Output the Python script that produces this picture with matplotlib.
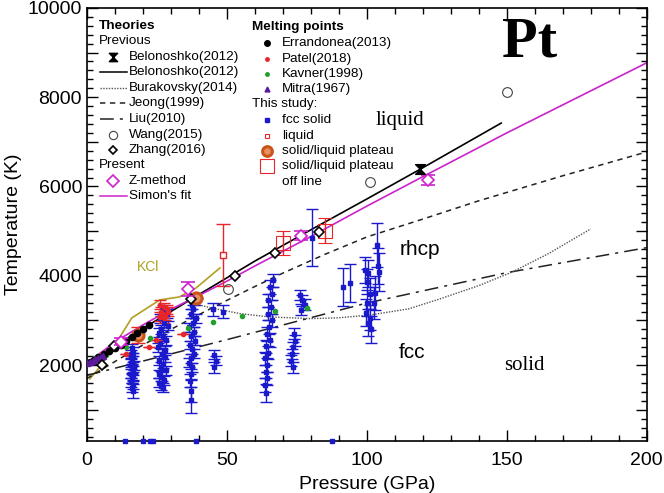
import matplotlib
matplotlib.use("Agg")
import matplotlib.pyplot as plt
from matplotlib.path import Path
from matplotlib.ticker import MultipleLocator, FuncFormatter

plt.rcParams["font.family"] = ["Liberation Sans", "DejaVu Sans"]

# ---- theory curves ----
belo_line_p = [0, 20, 40, 60, 80, 100, 120, 148]
belo_line_t = [2045, 2820, 3580, 4330, 5030, 5720, 6420, 7420]
simon_p = [0, 10, 20, 30, 40, 50, 60, 80, 100, 120, 150, 200]
simon_t = [2041, 2520, 2900, 3250, 3560, 3880, 4220, 4880, 5560, 6220, 7200, 8770]
jeong_p = [0, 10, 20, 30, 40, 50, 60, 70, 85, 100, 120, 140, 170, 200]
jeong_t = [1700, 2080, 2450, 2800, 3130, 3450, 3760, 4060, 4480, 4870, 5270, 5680, 6240, 6774]
liu_p = [0, 50, 100, 150, 200]
liu_t = [1770, 2570, 3390, 4070, 4630]
bura_p = [38, 45, 55, 65, 80, 90, 101, 115, 126, 140, 152, 165, 180]
bura_t = [3380, 3270, 3150, 3080, 3040, 3060, 3120, 3260, 3480, 3780, 4086, 4500, 5050]
kcl_p = [1, 4.6, 9.3, 16, 26, 33, 39, 47.5]
kcl_t = [1690, 1958, 2383, 3056, 3459, 3526, 3728, 4176]

belo_pt_p = [119]
belo_pt_t = [6393]
wang_p = [50.4, 101, 150]
wang_t = [3705, 6100, 8118]
zhang_p = [5.2, 9.5, 12.5, 37, 53, 67, 83]
zhang_t = [2003, 2420, 2500, 3484, 3997, 4519, 4990]
zmeth_p = [12, 36, 76.4, 122]
zmeth_t = [2520, 3705, 4892, 6147]
zmeth_err = [80, 150, 100, 120]

# ---- melting points ----
erran_p = [1, 2.5, 4, 6, 8, 10, 12, 14, 16, 18, 20, 22]
erran_t = [2080, 2120, 2180, 2250, 2320, 2390, 2460, 2540, 2620, 2720, 2810, 2900]
patel_p = [26, 27.5, 28.5, 26.5, 27, 28, 26, 27.5, 28.8, 14, 22, 24.6, 34.3]
patel_t = [3350, 3300, 3250, 3200, 3150, 3100, 3080, 3050, 3200, 2250, 2400, 2560, 2700]
patel_err = [100, 100, 100, 100, 100, 100, 100, 100, 100, 0, 0, 0, 0]
kavner_p = [2.5, 6.8, 14, 22.5, 36, 45, 55.3, 67, 78.5]
kavner_t = [2150, 2227, 2406, 2608, 2832, 2966, 3100, 3212, 3270]
mitra_p = [0, 1, 2, 3, 4, 5, 5.7]
mitra_t = [2041, 2070, 2100, 2130, 2160, 2190, 2210]

# ---- this study ----
fcc_p = [16.0, 16.4, 15.8, 16.6, 16.2, 15.6, 16.8, 16.0, 16.4, 15.8, 16.6, 16.2, 15.9, 16.5, 16.1, 16.3,
         27.0, 28.5, 26.0, 27.5, 28.8, 26.5, 25.8, 27.2, 28.4, 26.2, 25.5, 27.8, 26.8, 28.0, 25.8, 27.0,
         26.4, 28.2, 25.6, 26.9, 27.6, 25.9, 26.6, 27.3,
         38.5, 37.5, 38.0, 37.0, 38.8, 37.8, 36.5, 38.2, 37.2, 38.6, 36.8, 37.6, 38.4, 37.0, 36.6, 37.4,
         37.0, 36.8, 37.2, 37.0,
         45.0, 48.5, 45.5, 46.0, 45.5,
         66.5, 65.5, 66.0, 64.8, 65.8, 64.5, 66.2, 65.0, 64.2, 65.4, 64.0, 64.8, 63.6, 64.4, 63.8, 64.2,
         63.5, 64.0,
         74.0, 74.5, 73.5, 73.2, 73.0, 73.5, 76.0, 77.0, 78.0, 76.5, 80.5, 91.4, 94.0,
         99.5, 100.5, 100.0, 101.0, 100.2, 99.8, 101.2, 100.4, 103.5, 104.0, 104.5, 103.0, 102.5, 101.5]
fcc_t = [2380, 2300, 2230, 2170, 2100, 2050, 1990, 1930, 1870, 1810, 1750, 1690, 1620, 1560, 1490, 1420,
         3250, 3150, 3050, 2950, 2880, 2800, 2720, 2640, 2560, 2480, 2400, 2330, 2250, 2180, 2100, 2030,
         1960, 1880, 1800, 1740, 1660, 1600, 1540, 1490,
         3450, 3350, 3250, 3150, 3050, 2950, 2850, 2750, 2650, 2550, 2450, 2350, 2250, 2150, 2050, 1950,
         1800, 1650, 1420, 1220,
         3250, 3200, 2230, 2100, 1950,
         3900, 3750, 3600, 3450, 3300, 3150, 3000, 2850, 2700, 2560, 2420, 2280, 2150, 2000, 1850, 1700,
         1550, 1380,
         2700, 2550, 2400, 2250, 2100, 1950, 3570, 3450, 3350, 3240, 4850, 3750, 3840,
         4130, 4060, 3870, 3600, 3390, 3170, 3060, 2950, 4690, 4220, 4090, 3610, 3390, 2800]
fcc_err = [100] * 15 + [150] + [100] * 24 + [100] * 16 + [120, 150, 250, 300] + [150, 150, 100, 100, 120] + \
          [150] * 17 + [200] + [120] * 10 + [640, 430, 430] + \
          [300, 300, 280, 350, 300, 300, 280, 300, 490, 400, 420, 380, 350, 300]
axis_p = [13.7, 20.1, 22.4, 23.6, 38.8, 87.6]
axis_t = [300, 300, 300, 300, 300, 300]
liquid_p = [48.6]
liquid_t = [4470]
liquid_err = [700]
plateau_p = [18.4, 39]
plateau_t = [2675, 3504]
plateau_err = [180, 0]
offline_p = [70, 85]
offline_t = [4735, 5004]
offline_err = [260, 280]

BLUE = "#1a1acc"
RED = "#e8262a"
ORANGE = "#c9541a"
GREEN = "#22a02a"
PURPLE = "#5a1a9a"
MAGENTA = "#cc22cc"
OLIVE = "#b0a020"

hourglass = Path([(-1, 1), (1, 1), (-1, -1), (1, -1), (-1, 1)],
                 [Path.MOVETO, Path.LINETO, Path.LINETO, Path.LINETO, Path.CLOSEPOLY])

fig = plt.figure(figsize=(6.64, 4.93), dpi=100)
ax = fig.add_axes([0.131, 0.1055, 0.843, 0.8785])

# theory lines
ax.plot(kcl_p, kcl_t, color=OLIVE, lw=1.2)
ax.plot(liu_p, liu_t, color="#222222", lw=1.1, dashes=(9, 4, 2, 4))
ax.plot(jeong_p, jeong_t, color="#222222", lw=1.1, dashes=(3.5, 3))
ax.plot(bura_p, bura_t, color="#555555", lw=1.0, linestyle=(0, (1, 1)))
ax.plot(belo_line_p, belo_line_t, color="black", lw=1.2)
ax.plot(simon_p, simon_t, color=MAGENTA, lw=1.2)

# this study
ax.errorbar(fcc_p, fcc_t, yerr=fcc_err, fmt="s", ms=3.3, color=BLUE, ecolor=BLUE,
            elinewidth=1, capsize=4.5, capthick=1)
ax.plot(axis_p, axis_t, "s", ms=3.5, color=BLUE, clip_on=False, zorder=5)
ax.errorbar(patel_p, patel_t, yerr=patel_err, fmt="o", ms=3, color=RED, ecolor=RED,
            elinewidth=1, capsize=4)
ax.errorbar(liquid_p, liquid_t, yerr=liquid_err, fmt="s", ms=4, mfc="white", mec=RED,
            ecolor=RED, elinewidth=1, capsize=5)
ax.errorbar(offline_p, offline_t, yerr=offline_err, fmt="s", ms=10, mfc="none", mec=RED,
            ecolor=RED, elinewidth=1, capsize=5, mew=0.8)
ax.errorbar(plateau_p, plateau_t, yerr=plateau_err, fmt="none", ecolor=RED, elinewidth=1, capsize=5)
ax.plot(plateau_p, plateau_t, "o", ms=8, mfc="#e89060", mec=ORANGE, mew=2.2, zorder=6)

# melting points
ax.plot(kavner_p, kavner_t, "o", ms=3, color=GREEN, zorder=6)
ax.plot(erran_p, erran_t, "o", ms=4.5, color="black", zorder=6)
ax.plot(mitra_p, mitra_t, "^", ms=4, color=PURPLE, zorder=6)

# theory points
ax.plot(wang_p, wang_t, "o", ms=7, mfc="none", mec="#444444", mew=0.8, zorder=7)
ax.plot(zhang_p, zhang_t, "D", ms=5, mfc="white", mec="black", mew=1.2, zorder=7)
ax.errorbar(zmeth_p, zmeth_t, yerr=zmeth_err, fmt="D", ms=6, mfc="white", mec=MAGENTA,
            ecolor=MAGENTA, mew=1.2, capsize=5, zorder=8)
ax.plot(belo_pt_p, belo_pt_t, marker=hourglass, ms=7, color="black", lw=0, zorder=8)

# region labels
ax.text(22, 4200, "KCl", color=OLIVE, fontsize=10, ha="center", va="center")
ax.text(112, 7470, "liquid", family="Liberation Serif", fontsize=15, ha="center", va="center")
ax.text(119, 4580, "rhcp", fontsize=15, ha="center", va="center")
ax.text(116, 2280, "fcc", fontsize=15, ha="center", va="center")
ax.text(156.4, 1980, "solid", family="Liberation Serif", fontsize=15, ha="center", va="center")
ax.text(158, 9230, "Pt", family="Liberation Serif", fontweight="bold", fontsize=42,
        ha="center", va="center")

# ---- legends (drawn by hand in axes fraction) ----
tr = ax.transAxes
fs = 9.7


def row(x, y, label, bold=False):
    ax.text(x, y, label, transform=tr, fontsize=fs, va="center",
            fontweight="bold" if bold else "normal")


rows_l = [0.958, 0.924, 0.887, 0.852, 0.815, 0.780, 0.744, 0.707, 0.672, 0.637, 0.600, 0.566]
row(0.021, rows_l[0], "Theories", bold=True)
row(0.021, rows_l[1], "Previous")
row(0.021, rows_l[9], "Present")
texts_l = ["Belonoshko(2012)", "Belonoshko(2012)", "Burakovsky(2014)", "Jeong(1999)",
           "Liu(2010)", "Wang(2015)", "Zhang(2016)"]
for i, lab in enumerate(texts_l):
    row(0.075, rows_l[2 + i], lab)
row(0.075, rows_l[10], "Z-method")
row(0.075, rows_l[11], "Simon's fit")
hx = [0.023, 0.071]
mx = 0.0464
ax.plot([mx], [rows_l[2]], marker=hourglass, ms=6, color="black", transform=tr, lw=0)
ax.plot(hx, [rows_l[3]] * 2, color="black", lw=1.1, transform=tr)
ax.plot(hx, [rows_l[4]] * 2, color="#555555", lw=1.0, linestyle=(0, (1, 1)), transform=tr)
ax.plot(hx, [rows_l[5]] * 2, color="#222222", lw=1.1, dashes=(3.5, 3), transform=tr)
ax.plot(hx, [rows_l[6]] * 2, color="#222222", lw=1.1, dashes=(9, 4, 2, 4), transform=tr)
ax.plot([mx], [rows_l[7]], "o", ms=6, mfc="none", mec="#444444", mew=0.8, transform=tr)
ax.plot([mx], [rows_l[8]], "D", ms=4.5, mfc="white", mec="black", mew=1.2, transform=tr)
ax.plot([mx], [rows_l[10]], "D", ms=6, mfc="white", mec=MAGENTA, mew=1.2, transform=tr)
ax.plot(hx, [rows_l[11]] * 2, color=MAGENTA, lw=1.1, transform=tr)

rows_r = [0.956, 0.919, 0.882, 0.848, 0.813, 0.778, 0.741, 0.704, 0.670, 0.635, 0.598]
row(0.295, rows_r[0], "Melting points", bold=True)
row(0.295, rows_r[5], "This study:")
texts_r = ["Errandonea(2013)", "Patel(2018)", "Kavner(1998)", "Mitra(1967)"]
for i, lab in enumerate(texts_r):
    row(0.348, rows_r[1 + i], lab)
texts_s = ["fcc solid", "liquid", "solid/liquid plateau", "solid/liquid plateau", "off line"]
for i, lab in enumerate(texts_s):
    row(0.348, rows_r[6 + i], lab)
rx = 0.321
ax.plot([rx], [rows_r[1]], "o", ms=4, color="black", transform=tr)
ax.plot([rx], [rows_r[2]], "o", ms=2.5, color=RED, transform=tr)
ax.plot([rx], [rows_r[3]], "o", ms=2.5, color=GREEN, transform=tr)
ax.plot([rx], [rows_r[4]], "^", ms=3.5, color=PURPLE, transform=tr)
ax.plot([rx], [rows_r[6]], "s", ms=2.5, color=BLUE, transform=tr)
ax.plot([rx], [rows_r[7]], "s", ms=3.5, mfc="white", mec=RED, mew=0.8, transform=tr)
ax.plot([rx], [rows_r[8]], "o", ms=7, mfc="#e89060", mec=ORANGE, mew=2.2, transform=tr)
ax.plot([rx], [rows_r[9]], "s", ms=10, mfc="none", mec=RED, mew=0.8, transform=tr)

# ---- axes ----
ax.set_xlim(0, 200)
ax.set_ylim(300, 10000)
ax.xaxis.set_major_locator(MultipleLocator(50))
ax.xaxis.set_minor_locator(MultipleLocator(10))
ax.yaxis.set_major_locator(MultipleLocator(1000))
ax.yaxis.set_minor_locator(MultipleLocator(200))
ax.yaxis.set_major_formatter(FuncFormatter(lambda v, p: f"{int(v)}" if int(v) % 2000 == 0 else ""))
ax.tick_params(which="both", direction="in", top=True, right=True, labelsize=14, width=1)
ax.tick_params(which="major", length=8)
ax.tick_params(which="minor", length=4.5)
ax.tick_params(axis="x", which="major", pad=8)
for s in ax.spines.values():
    s.set_linewidth(1.2)
ax.set_xlabel("Pressure (GPa)", fontsize=14, labelpad=5)
ax.set_ylabel("Temperature (K)", fontsize=14, labelpad=4)

fig.savefig("out.png", dpi=100)
